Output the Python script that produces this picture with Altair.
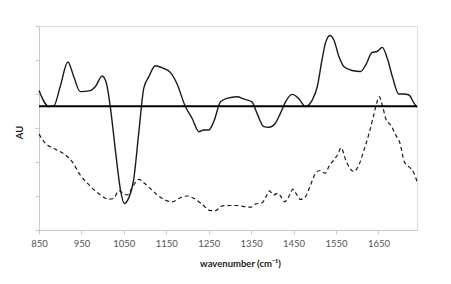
import altair as alt
import pandas as pd

# Solid spectrum (difference)
solid_wn = [850, 873, 885, 900, 918, 932, 947, 971, 983, 999, 1009, 1018, 1030, 1042, 1051, 1061, 1073, 1085, 1097, 1109,
            1124, 1144, 1160, 1175, 1195, 1211, 1227, 1238, 1250, 1262, 1278, 1293, 1317, 1333, 1352, 1364, 1380, 1392,
            1407, 1419, 1431, 1447, 1462, 1478, 1494, 1506, 1517, 1525, 1536, 1545, 1557, 1569, 1588, 1608, 1620, 1635,
            1647, 1659, 1671, 1683, 1698, 1710, 1722, 1734, 1741]
solid_au = [4.10, 3.63, 3.65, 4.22, 4.94, 4.51, 4.07, 4.10, 4.22, 4.53, 4.31, 3.63, 2.35, 1.18, 0.78, 0.93, 1.47, 2.84, 4.17, 4.51,
            4.83, 4.75, 4.63, 4.31, 3.63, 3.28, 2.89, 2.94, 2.94, 3.19, 3.77, 3.87, 3.92, 3.85, 3.77, 3.43, 3.04, 3.02,
            3.14, 3.43, 3.77, 3.99, 3.87, 3.63, 3.82, 4.22, 5.00, 5.49, 5.72, 5.59, 5.10, 4.80, 4.69, 4.66, 4.85, 5.22,
            5.25, 5.37, 5.05, 4.51, 4.00, 4.00, 3.97, 3.73, 3.61]

# Dashed spectrum
dashed_wn = [850, 865, 885, 912, 928, 947, 971, 995, 1014, 1026, 1038, 1048, 1058, 1069, 1077, 1085, 1097, 1120, 1144, 1164,
             1183, 1199, 1215, 1234, 1254, 1266, 1282, 1301, 1317, 1333, 1349, 1360, 1376, 1385, 1393, 1403, 1413, 1423,
             1429, 1443, 1448, 1458, 1466, 1478, 1490, 1502, 1512, 1525, 1533, 1545, 1555, 1562, 1573, 1583, 1592, 1604,
             1616, 1628, 1638, 1646, 1652, 1660, 1669, 1679, 1691, 1701, 1711, 1726, 1734, 1741]
dashed_au = [2.82, 2.55, 2.40, 2.21, 2.01, 1.62, 1.29, 1.03, 0.91, 0.93, 1.16, 1.08, 1.03, 1.23, 1.39, 1.49, 1.39, 1.13, 0.90, 0.83,
             0.95, 1.00, 0.93, 0.76, 0.57, 0.57, 0.71, 0.72, 0.72, 0.69, 0.67, 0.76, 0.80, 0.98, 1.15, 1.03, 1.08, 0.93,
             0.83, 1.08, 1.20, 1.03, 0.90, 0.98, 1.32, 1.67, 1.75, 1.67, 1.86, 2.06, 2.24, 2.42, 2.06, 1.81, 1.72, 1.91,
             2.35, 2.84, 3.33, 3.73, 3.92, 3.63, 3.22, 3.09, 2.79, 2.55, 2.01, 1.81, 1.67, 1.42]

# Zero (baseline) line
base_wn = [850, 1741]
base_au = [3.64, 3.64]

x_ticks = [850, 950, 1050, 1150, 1250, 1350, 1450, 1550, 1650]
y_ticks = [0, 1, 2, 3, 4, 5, 6]

solid_df = pd.DataFrame({"wn": solid_wn, "au": solid_au})
dashed_df = pd.DataFrame({"wn": dashed_wn, "au": dashed_au})
base_df = pd.DataFrame({"wn": base_wn, "au": base_au})

FONT = "Lato"
x_enc = alt.X("wn:Q", scale=alt.Scale(domain=[850, 1741], nice=False, zero=False),
              axis=alt.Axis(values=x_ticks, title="wavenumber (cm\u207b\u00b9)", grid=False,
                            domainColor="#c8c8c8", tickColor="#c8c8c8", tickSize=4,
                            labelColor="#555555", labelFontSize=9.5, labelFont=FONT, labelPadding=4,
                            titleFont=FONT, titleFontSize=9.5, titleFontWeight="bold", titleColor="#222222",
                            titleX=201, titleY=36, titleAlign="center", titleBaseline="alphabetic",
                            format="d", labelFlush=False))
y_enc = alt.Y("au:Q", scale=alt.Scale(domain=[0, 6], nice=False),
              axis=alt.Axis(values=y_ticks, labels=False, title="AU", grid=False,
                            domainColor="#c8c8c8", tickColor="#c8c8c8", tickSize=4,
                            titleFont=FONT, titleFontSize=9.5, titleFontWeight="bold", titleColor="#222222",
                            titleX=-15, titleY=106, titleAlign="center"))

solid = alt.Chart(solid_df).mark_line(color="#1a1a1a", strokeWidth=1.4, interpolate="monotone").encode(x=x_enc, y=y_enc)
dashed = alt.Chart(dashed_df).mark_line(color="#1a1a1a", strokeWidth=1.2, strokeDash=[4, 3],
                                         interpolate="monotone").encode(x=x_enc, y=y_enc)
base = alt.Chart(base_df).mark_line(color="#000000", strokeWidth=2).encode(x=x_enc, y=y_enc)

chart = alt.layer(dashed, solid, base).properties(
    width=378, height=204,
    padding={"left": 39, "top": 26, "right": 34, "bottom": 54},
    autosize=alt.AutoSizeParams(type="none"),
).configure_view(stroke=None).configure(background="white")

chart.save("out.html", embed_options={"renderer": "svg", "actions": False})
